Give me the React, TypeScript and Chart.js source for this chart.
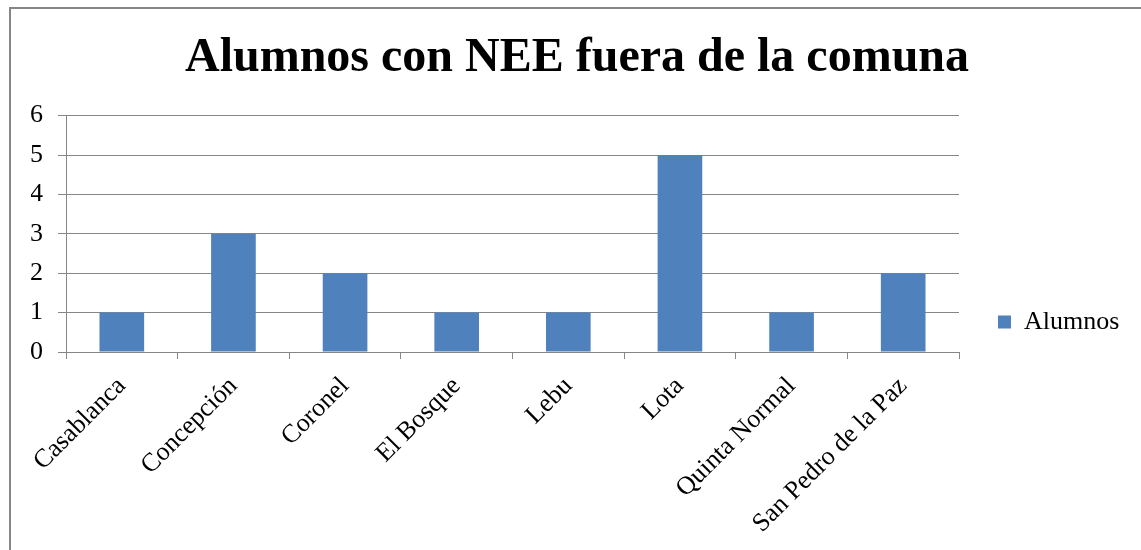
import React, { useEffect, useRef } from "react";
import { Chart, registerables } from "chart.js";

Chart.register(...registerables);

const title = "Alumnos con NEE fuera de la comuna";
const seriesName = "Alumnos";
const categories = [
  "Casablanca",
  "Concepción",
  "Coronel",
  "El Bosque",
  "Lebu",
  "Lota",
  "Quinta Normal",
  "San Pedro de la Paz",
];
const alumnos = [1, 3, 2, 1, 1, 5, 1, 2];
const yMin = 0;
const yMax = 6;
const yStep = 1;

const FONT = "'Liberation Serif', 'Times New Roman', serif";
const GRID = "#868686";
const BAR = "#4F81BD";

const framePlugin = {
  id: "frame",
  afterDraw(chart: any) {
    const { ctx, width, height } = chart;
    ctx.save();
    ctx.strokeStyle = GRID;
    ctx.lineWidth = 2;
    ctx.strokeRect(1, 1, width - 2, height - 2);
    ctx.restore();
  },
};

export default function App() {
  const ref = useRef<HTMLCanvasElement | null>(null);

  useEffect(() => {
    if (!ref.current) return;
    const chart = new Chart(ref.current, {
      type: "bar",
      data: {
        labels: categories,
        datasets: [
          {
            label: seriesName,
            data: alumnos,
            backgroundColor: BAR,
            borderWidth: 0,
            barPercentage: 0.4,
            categoryPercentage: 1,
          },
        ],
      },
      plugins: [framePlugin],
      options: {
        animation: false,
        responsive: true,
        maintainAspectRatio: false,
        layout: { padding: { top: 0, left: 22, bottom: 0, right: 22 } },
        plugins: {
          tooltip: { enabled: false },
          title: {
            display: true,
            text: title,
            color: "#000",
            font: { family: FONT, size: 48, weight: "bold", lineHeight: 1.2 },
            padding: { top: 23, bottom: 28 },
          },
          legend: {
            display: true,
            position: "right",
            align: "center",
            maxWidth: 164,
            labels: {
              boxWidth: 13,
              boxHeight: 13,
              padding: 39,
              color: "#000",
              font: { family: FONT, size: 26 },
            },
          },
        },
        scales: {
          x: {
            grid: {
              display: true,
              offset: true,
              drawOnChartArea: false,
              drawTicks: true,
              tickLength: 7,
              color: GRID,
            },
            border: { display: true, color: GRID },
            ticks: {
              autoSkip: false,
              minRotation: 45,
              maxRotation: 45,
              padding: 12,
              color: "#000",
              font: { family: FONT, size: 26 },
            },
            afterFit(scale: any) {
              scale.height = 285;
            },
          },
          y: {
            min: yMin,
            max: yMax,
            grid: {
              color: GRID,
              drawTicks: true,
              tickLength: 8,
            },
            border: { display: true, color: GRID },
            ticks: {
              stepSize: yStep,
              padding: 15,
              color: "#000",
              font: { family: FONT, size: 26 },
            },
            afterFit(scale: any) {
              scale.width = 35;
            },
          },
        },
      },
    } as any);
    return () => chart.destroy();
  }, []);

  return (
    <div
      style={{
        position: "absolute",
        left: 0,
        top: 0,
        width: 1141,
        height: 550,
        overflow: "hidden",
        background: "#fff",
      }}
    >
      <div style={{ position: "absolute", left: 9, top: 7, width: 1136, height: 630 }}>
        <canvas ref={ref} />
      </div>
    </div>
  );
}
